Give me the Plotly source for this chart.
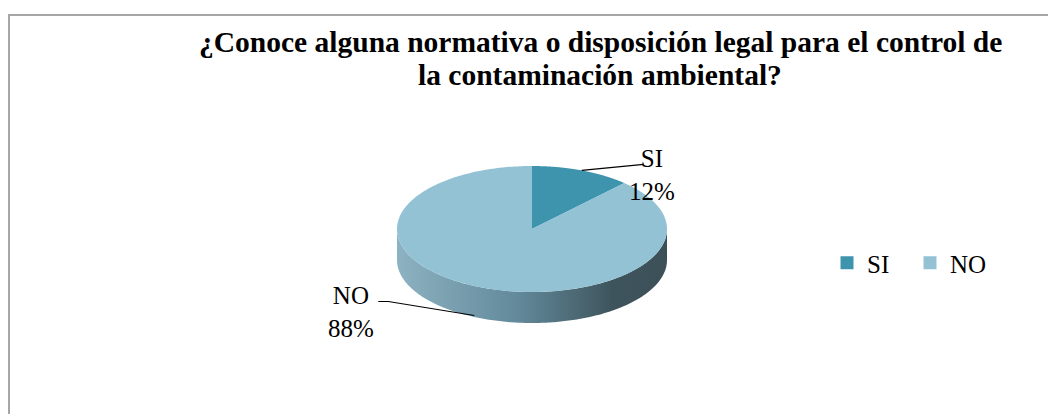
import numpy as np
import plotly.graph_objects as go

categories = ["SI", "NO"]
values = [12, 88]
slice_colors = ["#3F94AD", "#92C2D4"]
title_lines = ["¿Conoce alguna normativa o disposición legal para el control de",
               "la contaminación ambiental?"]

W, H = 1056, 414
OFF = 8  # page body margin of the browser
CX, CY, RX, RY, DEPTH = 532, 229, 135, 63, 31
FONT = "Liberation Serif"


def ell(theta_deg, dy=0.0):
    t = np.radians(theta_deg)
    return CX + RX * np.sin(t), CY - RY * np.cos(t) + dy


fig = go.Figure()
total = float(sum(values))
bounds = []
acc = 0.0
for v in values:
    s = acc / total * 360
    acc += v
    e = acc / total * 360
    bounds.append((s, e))

# visible front side (depth) of each slice
for (s, e), col in zip(bounds, slice_colors):
    a, b = max(s, 90), min(e, 270)
    if b <= a:
        continue
    th = np.linspace(a, b, 200)
    xt, yt = ell(th)
    xb, yb = ell(th[::-1], DEPTH)
    fig.add_trace(go.Scatter(
        x=np.r_[xt, xb], y=np.r_[yt, yb], fill="toself", mode="none",
        fillgradient=dict(type="horizontal",
                          colorscale=[[0, "#8DB3C2"], [0.45, "#62899A"], [0.8, "#3E545C"], [1, "#3C5058"]]),
        showlegend=False, hoverinfo="skip"))

# top surface slices
for (s, e), col in zip(bounds, slice_colors):
    th = np.linspace(s, e, 300)
    x, y = ell(th)
    fig.add_trace(go.Scatter(
        x=np.r_[CX, x, CX], y=np.r_[CY, y, CY], fill="toself", mode="none",
        fillcolor=col, showlegend=False, hoverinfo="skip"))

# legend entries
for cat, col in zip(categories, slice_colors):
    fig.add_trace(go.Scatter(x=[None], y=[None], mode="markers", name=cat,
                             marker=dict(symbol="square", size=13, color=col)))

# data labels with leader lines
label_cfg = {
    "SI": dict(dy_edge=0, line=[(62, -6)], text_off=(70, 5)),
    "NO": dict(dy_edge=DEPTH * 0.9, line=[(-86, -14), (-96, -14)], text_off=(-123, -3)),
}
shapes = []
annotations = []
for cat, v, (s, e) in zip(categories, values, bounds):
    mid = (s + e) / 2
    cfg = label_cfg[cat]
    ex, ey = ell(mid, cfg["dy_edge"])
    if cat == "NO":
        ex -= 8
    pts = [(ex, ey)] + [(ex + dx, ey + dy) for dx, dy in cfg["line"]]
    path = "M " + " L ".join(f"{px:.1f},{py:.1f}" for px, py in pts)
    shapes.append(dict(type="path", path=path, xref="x", yref="y",
                       line=dict(color="#000000", width=1.1)))
    pct = round(v / total * 100)
    annotations.append(dict(x=ex + cfg["text_off"][0], y=ey + cfg["text_off"][1], xref="x", yref="y",
                            text=f"{cat}<br>{pct}%", showarrow=False, xanchor="center", yanchor="middle",
                            font=dict(family=FONT, size=25, color="#000000")))

for line, ty in zip(title_lines, [42, 75]):
    annotations.append(dict(x=600, y=ty, xref="x", yref="y", text=f"<b>{line}</b>", showarrow=False,
                            xanchor="center", yanchor="middle",
                            font=dict(family=FONT, size=29.5, color="#000000")))

shapes.append(dict(type="rect", xref="x", yref="y", x0=9, y0=15, x1=W + 20, y1=H + 20,
                   line=dict(color="#A6A6A6", width=2), fillcolor="rgba(0,0,0,0)", layer="below"))

fig.update_layout(
    width=W - OFF, height=H - OFF, margin=dict(l=0, r=0, t=0, b=0),
    paper_bgcolor="white", plot_bgcolor="white",
    xaxis=dict(range=[OFF, W], visible=False, fixedrange=True),
    yaxis=dict(range=[H, OFF], visible=False, fixedrange=True),
    shapes=shapes, annotations=annotations,
    legend=dict(orientation="h", x=(827 - OFF) / (W - OFF), y=1 - (263 - OFF) / (H - OFF),
                xanchor="left", yanchor="middle",
                font=dict(family=FONT, size=25, color="#000000"), bgcolor="rgba(0,0,0,0)",
                itemwidth=30, entrywidth=38, entrywidthmode="pixels"),
)

fig.write_html("out.html")
